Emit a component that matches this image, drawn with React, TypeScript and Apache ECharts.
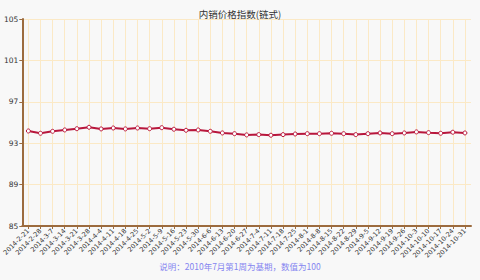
import React, { useEffect, useRef } from "react";
import * as echarts from "echarts";

const categories = [
  "2014-2-21", "2014-2-28", "2014-3-7", "2014-3-14", "2014-3-21", "2014-3-28",
  "2014-4-4", "2014-4-11", "2014-4-18", "2014-4-25", "2014-5-2", "2014-5-9",
  "2014-5-16", "2014-5-23", "2014-5-30", "2014-6-6", "2014-6-13", "2014-6-20",
  "2014-6-27", "2014-7-4", "2014-7-11", "2014-7-18", "2014-7-25", "2014-8-1",
  "2014-8-8", "2014-8-15", "2014-8-22", "2014-8-29", "2014-9-5", "2014-9-12",
  "2014-9-19", "2014-9-26", "2014-10-3", "2014-10-10", "2014-10-17", "2014-10-24",
  "2014-10-31",
];

const indexValues = [
  94.18, 93.96, 94.15, 94.28, 94.4, 94.54, 94.38, 94.47, 94.38, 94.47, 94.4, 94.5,
  94.35, 94.25, 94.28, 94.15, 93.99, 93.92, 93.8, 93.83, 93.77, 93.83, 93.89, 93.92,
  93.92, 93.96, 93.92, 93.83, 93.92, 93.99, 93.92, 93.99, 94.09, 94.02, 93.96, 94.06,
  93.99,
];

const titleText = "内销价格指数(链式)";
const noteText = "说明：2010年7月第1周为基期，数值为100";

export default function App() {
  const ref = useRef<HTMLDivElement>(null);
  useEffect(() => {
    document.body.style.margin = "0";
    const chart = echarts.init(ref.current!, null, { renderer: "svg" });
    const axisColor = "#9c6b3e";
    const gridColor = "#fbe9c6";
    chart.setOption({
      animation: false,
      backgroundColor: "#f8f8f8",
      title: {
        text: titleText,
        left: "center",
        top: 4,
        textStyle: { fontSize: 9.5, fontWeight: "normal", color: "#333", fontFamily: "Noto Sans CJK SC" },
      },
      graphic: [
        {
          type: "text",
          left: "center",
          top: 262,
          style: { text: noteText, fontSize: 8.5, fill: "#8585f0", fontFamily: "Noto Sans CJK SC" },
        },
      ],
      grid: { left: 21, right: 9, top: 19, bottom: 54 },
      xAxis: {
        type: "category",
        data: categories,
        boundaryGap: true,
        axisLine: { lineStyle: { color: axisColor, width: 2 } },
        axisTick: { show: true, alignWithLabel: true, length: 3, lineStyle: { color: axisColor } },
        splitLine: { show: true, alignWithLabel: true, lineStyle: { color: gridColor, width: 1 } },
        axisLabel: {
          rotate: 45,
          interval: 0,
          fontSize: 6.5,
          color: "#333",
          margin: 4,
          fontFamily: "DejaVu Sans",
        },
      },
      yAxis: {
        type: "value",
        min: 85,
        max: 105,
        interval: 4,
        axisLine: { show: true, lineStyle: { color: axisColor, width: 2 } },
        axisTick: { show: true, length: 3, lineStyle: { color: axisColor } },
        splitLine: { show: true, lineStyle: { color: gridColor, width: 1 } },
        axisLabel: { fontSize: 7.5, color: "#333", margin: 4, fontFamily: "DejaVu Sans" },
      },
      series: [
        {
          type: "line",
          data: indexValues,
          symbol: "circle",
          symbolSize: 4,
          showSymbol: true,
          lineStyle: { color: "#b8163c", width: 2 },
          itemStyle: { color: "#ffffff", borderColor: "#b8163c", borderWidth: 1 },
        },
      ],
    });
    return () => chart.dispose();
  }, []);
  return <div ref={ref} style={{ width: 480, height: 280 }} />;
}
